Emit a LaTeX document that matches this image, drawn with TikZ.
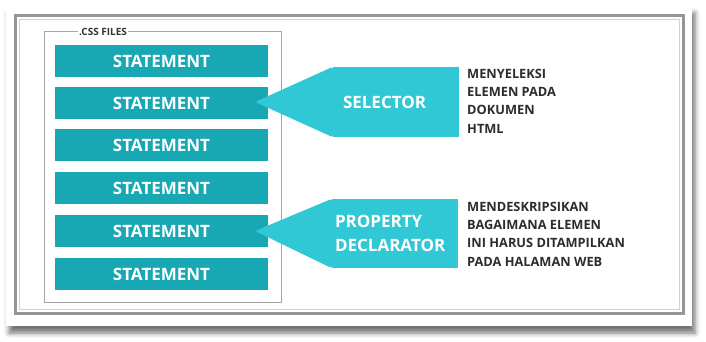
\documentclass[tikz,border=0pt]{standalone}
\usepackage{fontspec}
\setmainfont{Open Sans}
\usetikzlibrary{shadows.blur}

\definecolor{stmtteal}{RGB}{24,168,180}
\definecolor{callcyan}{RGB}{48,200,212}
\definecolor{frameg}{RGB}{150,150,150}
\definecolor{notegray}{RGB}{45,45,45}

\begin{document}
\begin{tikzpicture}[x=1pt,y=-1pt,
	stmt/.style={fill=stmtteal,text=white,minimum width=213,minimum height=32,
		inner sep=0,font=\fontsize{17}{20}\selectfont\bfseries},
	callout/.style={fill=callcyan,text=white,minimum width=126,inner sep=0,
		font=\fontsize{17}{24}\selectfont\bfseries},
	note/.style={anchor=north west,align=left,text=notegray,inner sep=0,
		font=\fontsize{12.8}{18.2}\selectfont\bfseries}]

	\useasboundingbox (0,0) rectangle (706,342);

	% card with shadow and grey frame
	\node[fill=white,blur shadow={shadow xshift=3pt,shadow yshift=-7pt,shadow blur radius=5pt,shadow opacity=55},
		minimum width=686,minimum height=320,inner sep=0] (card) at (349,166) {};
	\draw[frameg,line width=3] (15,16) rectangle (683,313);
	\draw[gray!35,line width=1] (19,20) rectangle (679,309);

	% css file box
	\draw[gray!70,line width=1] (44,32) rectangle (281,302);
	\node[fill=white,inner xsep=1,inner ysep=0,font=\fontsize{10}{12}\selectfont\bfseries,text=black!80] (css) at (103,32) {.CSS FILES};

	% statements
	\node[stmt] (s1) at (161.5,61)  {STATEMENT};
	\node[stmt] (s2) at (161.5,103) {STATEMENT};
	\node[stmt] (s3) at (161.5,145) {STATEMENT};
	\node[stmt] (s4) at (161.5,188) {STATEMENT};
	\node[stmt] (s5) at (161.5,231) {STATEMENT};
	\node[stmt] (s6) at (161.5,274) {STATEMENT};

	% callouts
	\node[callout,minimum height=70,align=left,text width=118] (sel) at (396,102) {\hspace*{6pt}SELECTOR};
	\node[callout,minimum height=69,align=left,text width=120] (prop) at (395,233.5) {PROPERTY\\DECLARATOR};

	\coordinate (tip1) at (255,102);
	\coordinate (tip2) at (255,231);
	\fill[callcyan,rounded corners=2] (sel.north west) -- (tip1) -- (sel.south west) -- cycle;
	\fill[callcyan,rounded corners=2] (prop.north west) -- (tip2) -- (prop.south west) -- cycle;

	% descriptions
	\node[note] (selnote) at (467,69) {MENYELEKSI\\ELEMEN PADA\\DOKUMEN\\HTML};
	\node[note] (propnote) at (467,202) {MENDESKRIPSIKAN\\BAGAIMANA ELEMEN\\INI HARUS DITAMPILKAN\\PADA HALAMAN WEB};
\end{tikzpicture}
\end{document}
